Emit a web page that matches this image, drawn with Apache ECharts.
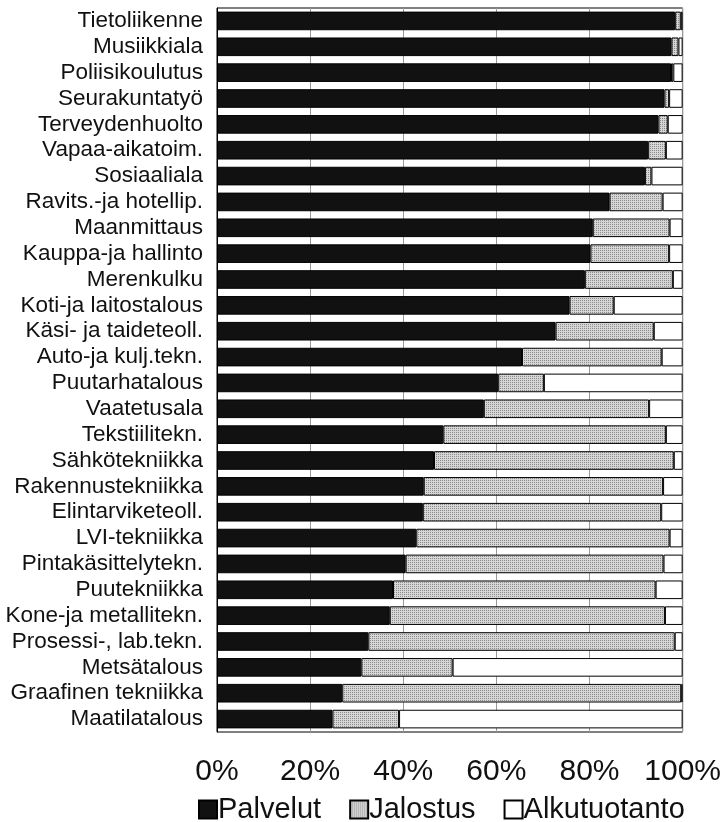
<!DOCTYPE html>
<html>
<head>
<meta charset="utf-8">
<script src="https://cdn.jsdelivr.net/npm/echarts@6/dist/echarts.min.js"></script>
<style>html,body{margin:0;padding:0;background:#fff}#c{width:724px;height:822px}</style>
</head>
<body>
<div id="c"></div>
<script>
const categories = ["Tietoliikenne","Musiikkiala","Poliisikoulutus","Seurakuntatyö","Terveydenhuolto","Vapaa-aikatoim.","Sosiaaliala","Ravits.-ja hotellip.","Maanmittaus","Kauppa-ja hallinto","Merenkulku","Koti-ja laitostalous","Käsi- ja taideteoll.","Auto-ja kulj.tekn.","Puutarhatalous","Vaatetusala","Tekstiilitekn.","Sähkötekniikka","Rakennustekniikka","Elintarviketeoll.","LVI-tekniikka","Pintakäsittelytekn.","Puutekniikka","Kone-ja metallitekn.","Prosessi-, lab.tekn.","Metsätalous","Graafinen tekniikka","Maatilatalous"];
const palvelut =     [98.4,97.6,97.5,96.1,94.8,92.6,91.9,84.3,80.7,80.2,79.0,75.7,72.7,65.5,60.4,57.3,48.6,46.6,44.4,44.2,42.8,40.5,37.8,37.1,32.5,31.0,26.9,24.8];
const jalostus =     [1.2,1.5,0.5,1.0,2.0,3.8,1.4,11.4,16.5,16.9,18.9,9.5,21.1,30.0,9.8,35.5,47.8,51.5,51.4,51.2,54.4,55.4,56.4,59.1,65.8,19.6,72.8,14.3];
const alkutuotanto = [0.4,0.9,2.0,2.9,3.2,3.6,6.7,4.3,2.8,2.9,2.1,14.8,6.2,4.5,29.8,7.2,3.6,1.9,4.2,4.6,2.8,4.1,5.8,3.8,1.7,49.4,0.3,60.9];
const seriesNames = ["Palvelut","Jalostus","Alkutuotanto"];
const xTicks = [0,20,40,60,80,100];

const pc = document.createElement('canvas');
pc.width = 2; pc.height = 2;
const pctx = pc.getContext('2d');
pctx.fillStyle = '#d6d6d6'; pctx.fillRect(0,0,2,2);
pctx.fillStyle = '#8c8c8c'; pctx.fillRect(0,0,1,1);
const grayPattern = {image: pc, repeat: 'repeat'};

const font = 'Liberation Sans, Arial, Helvetica, sans-serif';
const chart = echarts.init(document.getElementById('c'));
const colors = ['#111111', grayPattern, '#ffffff'];
const datas = [palvelut, jalostus, alkutuotanto];
chart.setOption({
  animation: false,
  backgroundColor: '#ffffff',
  grid: {left: 217, right: 40, top: 8, bottom: 90, containLabel: false, show: true, borderColor: '#000', borderWidth: 1, backgroundColor: 'transparent'},
  xAxis: {
    type: 'value', min: 0, max: 100, interval: 20,
    axisLine: {show: false}, axisTick: {show: false},
    splitLine: {show: true, lineStyle: {color: '#999', width: 1}},
    axisLabel: {formatter: v => xTicks.includes(v) ? v + '%' : '', color: '#111', fontSize: 30, fontFamily: font, margin: 25}
  },
  yAxis: {
    type: 'category', data: categories, inverse: true,
    axisLine: {show: true, lineStyle: {color: '#000'}}, axisTick: {show: false},
    axisLabel: {interval: 0, color: '#111', fontSize: 22.5, fontFamily: font, margin: 14}
  },
  legend: {
    data: seriesNames, left: 193, top: 790, itemWidth: 18, itemHeight: 18, itemGap: 28, icon: 'rect',
    textStyle: {fontSize: 29, fontFamily: font, color: '#111', padding: [0,0,0,-4]}
  },
  series: seriesNames.map((n, i) => ({
    name: n, type: 'bar', stack: 'total', data: datas[i], barCategoryGap: '28%',
    itemStyle: {color: colors[i], borderColor: '#000', borderWidth: 1}
  }))
});
</script>
</body>
</html>
